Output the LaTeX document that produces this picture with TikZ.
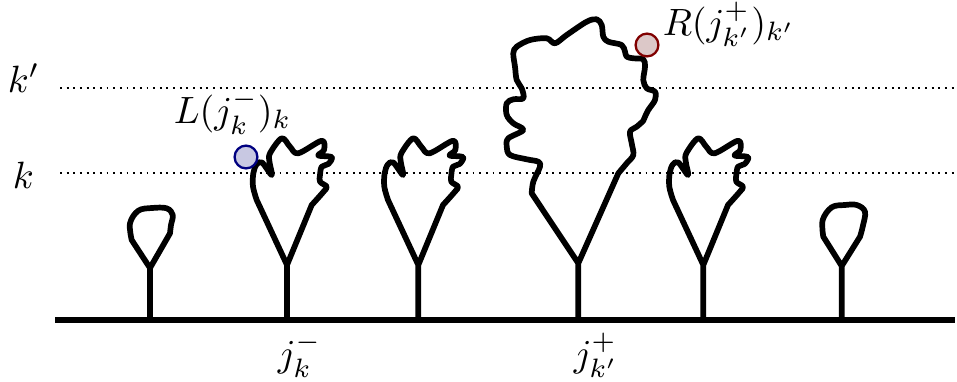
\documentclass[tikz,border=0pt]{standalone}
\definecolor{bluefill}{RGB}{200,200,226}
\definecolor{blueline}{RGB}{0,0,128}
\definecolor{redfill}{RGB}{220,200,200}
\definecolor{redline}{RGB}{128,0,0}
\begin{document}
\begin{tikzpicture}[x=0.263pt,y=-0.263pt,
  tree/.style={line width=1.5pt, line join=round, line cap=round},
  level/.style={line width=0.5pt, dash pattern=on 0.5pt off 1.25pt},
  ground/.style={line width=1.45pt},
  lab/.style={inner sep=0pt, anchor=base west},
  marker/.style={circle, inner sep=0pt, minimum size=6pt, line width=0.6pt}]
\useasboundingbox (0,0) rectangle (957,381);

% levels
\coordinate (kpa) at (60,88.3);  \coordinate (kpb) at (957,88.3);
\coordinate (ka)  at (60,173.3); \coordinate (kb)  at (957,173.3);
\draw[level] (kpa) -- (kpb);
\draw[level] (ka) -- (kb);

% ground
\coordinate (ga) at (55,320); \coordinate (gb) at (955,320);
\draw[ground] (ga) -- (gb);

% tree 1 (small loop)
\coordinate (t1b) at (150,320); \coordinate (t1j) at (150,268);
\draw[tree] (t1b) -- (t1j) -- (131.7,240)
  -- plot[smooth, tension=0.6] coordinates {(131.7,240) (130,223.3) (138.3,210.7) (152,208) (166.7,208.3) (172.7,215) (171,225) (170,233.3)}
  -- (t1j);

% crown template trees 2,3,5
\foreach \dx/\nm in {0/t2, 131.3/t3, 416.3/t5}{
  \begin{scope}[xshift=\dx*0.263pt]
  \coordinate (\nm b) at (287,320); \coordinate (\nm j) at (287,265);
  \draw[tree] (\nm b) -- (\nm j) -- (256.7,200)
    -- plot[smooth, tension=0.55] coordinates {(256.7,200) (253,186.7) (253.3,173.3) (256.5,164.5) (262,162.5) (271.7,175)
      (269.5,162) (270,153.3) (281.7,138.3) (290,146.7) (298.3,153.3) (321.7,140.7) (324,150) (318.3,155.5)
      (331.7,157) (328.3,164) (321.7,166.7) (320,175) (320,181.7) (326.7,186.7) (323.3,192) (311.7,205)}
    -- (\nm j);
  \end{scope}
}

% big tree 4
\coordinate (t4b) at (578.3,320); \coordinate (t4j) at (578.3,263.3);
\draw[tree] (t4b) -- (t4j) -- (531.7,193.3)
  -- plot[smooth, tension=0.55] coordinates {(531.7,193.3) (533.3,181.7) (540,166.7) (538.3,161.7) (526.7,159.3) (510,155)
     (506.7,146.7) (508.3,138.3) (523.3,130) (513.3,123.3) (506.7,115) (506.7,103.3) (513.3,99.3) (523.3,98.3)
     (521.7,88.3) (516.7,80) (515,66.7) (513.3,53.3) (516.7,46.7) (530,40) (546.7,38.3) (555,43.3) (566.7,35)
     (586.7,21.7) (596.7,19.3) (601.7,25) (603.3,36.7) (608.3,41.7) (621.7,45) (625,51.7) (626.7,56.7) (633.3,58.3)
     (643.3,59.3) (645,66.7) (643.3,80) (646.7,88.3) (655,91.7) (655,100) (648.3,110) (645,116.7) (643.3,120.7)
     (636.7,126.7) (630,131.7) (631.7,143.3) (633.3,155) (626.7,163.3) (618.3,173.3)}
  -- (t4j);

% tree 6 (small loop)
\coordinate (t6b) at (841.7,320); \coordinate (t6j) at (841.7,266);
\draw[tree] (t6b) -- (t6j) -- (823.3,236.7)
  -- plot[smooth, tension=0.6] coordinates {(823.3,236.7) (822.7,220) (831.7,207.3) (845,205) (856.7,205) (865,211.7) (862.7,226.7) (860,236.7)}
  -- (t6j);

% markers
\node[marker, fill=bluefill, draw=blueline] (lm) at (246,157) {};
\node[marker, fill=redfill, draw=redline] (rm) at (647,45) {};

% labels
\node[lab] (kp) at (7,92) {$k'$};
\node[lab] (k) at (12,188) {$k$};
\node[lab] (Llab) at (173,123) {$L(j_k^-)_k$};
\node[lab] (Rlab) at (662,35) {$R(j_{k'}^+)_{k'}$};
\node[lab] (jm) at (277,366) {$j_k^-$};
\node[lab] (jp) at (573,366) {$j_{k'}^+$};
\end{tikzpicture}
\end{document}
